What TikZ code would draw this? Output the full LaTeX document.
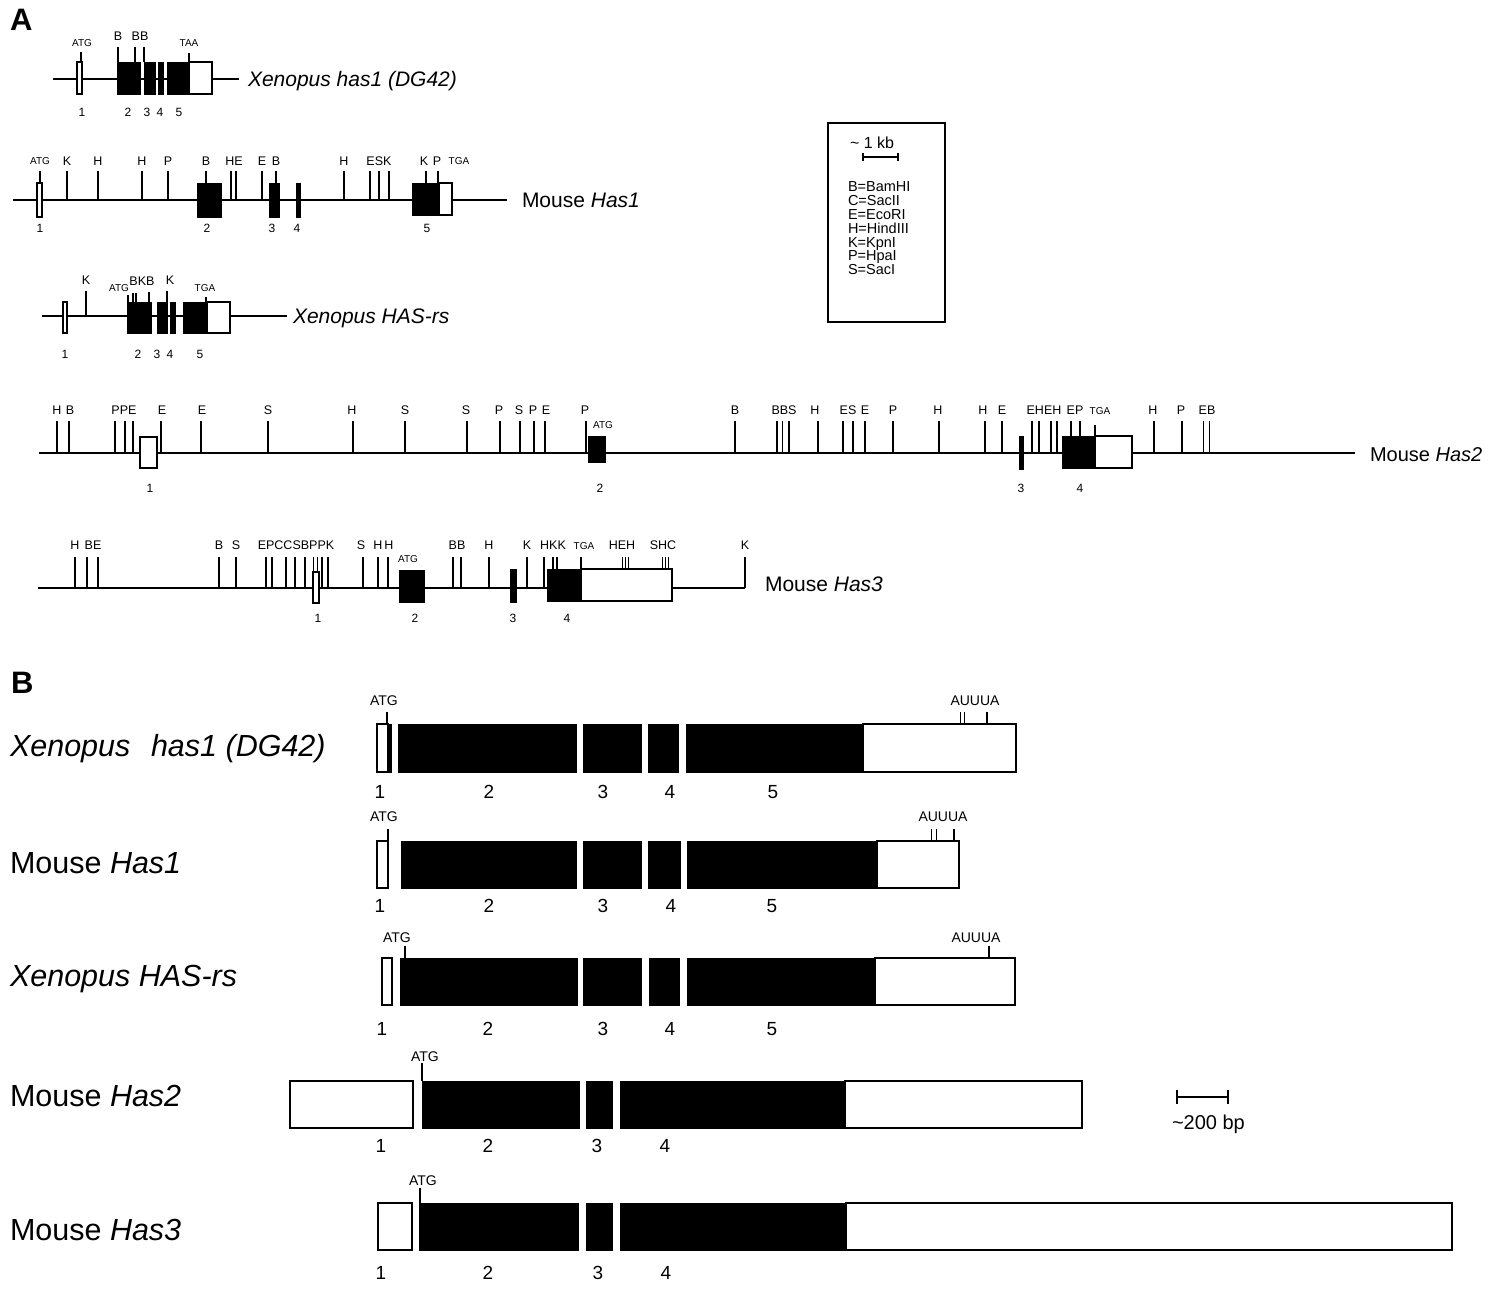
\documentclass[tikz,border=0pt]{standalone}
\usepackage{fontspec}
\setmainfont{Liberation Sans}
\begin{document}
\begin{tikzpicture}[x=1pt,y=-1pt,
  bl/.style={line width=1.5pt},
  tk/.style={line width=1.1pt},
  tn/.style={line width=0.8pt},
  ex/.style={fill=black,draw=black,line width=0.6pt},
  ut/.style={fill=white,draw=black,line width=1.3pt},
  txt/.style={inner sep=0pt,outer sep=0pt,anchor=base},
  rs/.style={txt,font=\fontsize{12.5}{14}\selectfont},
  sm/.style={txt,font=\fontsize{10}{11}\selectfont},
  num/.style={txt,font=\fontsize{12}{14}\selectfont},
  gA/.style={txt,anchor=base west,font=\fontsize{21}{24}\selectfont},
  gB/.style={txt,anchor=base west,font=\fontsize{30.5}{34}\selectfont},
  bsm/.style={txt,font=\fontsize{14}{16}\selectfont},
  bnum/.style={txt,font=\fontsize{19}{21}\selectfont},
  leg/.style={txt,anchor=base west,font=\fontsize{14.5}{16}\selectfont},
  panel/.style={txt,anchor=base west,font=\fontsize{31}{34}\selectfont\bfseries},
]
\useasboundingbox[fill=white] (0,0) rectangle (1494,1288);

%%%%%%%%%%%%%%%% PANEL A %%%%%%%%%%%%%%%%
\node[panel] (pA) at (10,30) {A};

% --- Xenopus has1 (DG42)
\draw[bl] (53,79) -- (239,79);
\draw[ut] (77,62) rectangle (82,94);
\foreach \a/\b in {117/140,144/155,158/163,167/189} \path[ex] (\a,62) rectangle (\b,94);
\draw[ut] (189,62) rectangle (212,94);
\foreach \x/\t in {81/52,118/47,135/47,144/47,189/53} \draw[tk] (\x,\t) -- (\x,62);
\node[sm] (x1atg) at (82,46) {ATG};
\node[rs] (x1b) at (118,40) {B};
\node[rs] (x1bb) at (140,40) {BB};
\node[sm] (x1taa) at (189,46) {TAA};
\foreach \x/\t [count=\i] in {82/1,128/2,147/3,160/4,179/5} \node[num] (x1n\i) at (\x,116) {\t};
\node[gA] (x1g) at (248,86) {\itshape Xenopus has1 (DG42)};

% --- Mouse Has1
\draw[bl] (13,200) -- (507,200);
\draw[ut] (37,183) rectangle (42,217);
\foreach \a/\b in {197/221,269/279,296/300} \path[ex] (\a,183) rectangle (\b,217);
\path[ex] (412,183) rectangle (439,215);
\draw[ut] (439,183) rectangle (452,215);
\foreach \x in {67,98,142,168,231,236,262,344,370,379,389} \draw[tk] (\x,171) -- (\x,200);
\foreach \x in {40,206,276,426,438} \draw[tk] (\x,171) -- (\x,183);
\foreach \x/\t [count=\i] in {67/K,98/H,142/H,168/P,206/B,234/HE,262/E,276/B,344/H,379/ESK,424/K,437/P} \node[rs] (m1l\i) at (\x,165) {\t};
\node[sm] (m1atg) at (40,164) {ATG};
\node[sm] (m1tga) at (459,164) {TGA};
\foreach \x/\t [count=\i] in {40/1,207/2,272/3,297/4,427/5} \node[num] (m1n\i) at (\x,232) {\t};
\node[gA] (m1g) at (522,207) {Mouse \textit{Has1}};

% --- Xenopus HAS-rs
\draw[bl] (42,316) -- (287,316);
\draw[ut] (63,302) rectangle (67,333);
\foreach \a/\b in {127/151,157/167,170/175,183/207} \path[ex] (\a,302) rectangle (\b,333);
\draw[ut] (207,302) rectangle (230,333);
\draw[tk] (86,291) -- (86,316);
\foreach \x/\t in {128/295,133/293,136/293,149/292,167/291,206/297} \draw[tk] (\x,\t) -- (\x,302);
\node[rs] (x2k1) at (86,284) {K};
\node[sm] (x2atg) at (119,291) {ATG};
\node[rs] (x2bkb) at (142,285) {BKB};
\node[rs] (x2k2) at (170,284) {K};
\node[sm] (x2tga) at (205,291) {TGA};
\foreach \x/\t [count=\i] in {65/1,138/2,157/3,170/4,200/5} \node[num] (x2n\i) at (\x,358) {\t};
\node[gA] (x2g) at (293,323) {\itshape Xenopus HAS-rs};

% --- Mouse Has2
\draw[bl] (39,453) -- (1355,453);
\draw[ut] (140,437) rectangle (157,468);
\path[ex] (588,436) rectangle (605,462);
\path[ex] (1019,436) rectangle (1023,469);
\path[ex] (1062,436) rectangle (1095,468);
\draw[ut] (1095,436) rectangle (1132,468);
\foreach \x in {57,69,115,125,133,161,201,268,353,405,467,500,520,534,545,586,735,777,789,818,843,853,865,893,939,985,1002,1032,1039,1051,1057,1154,1182} \draw[tk] (\x,421) -- (\x,453);
\foreach \x in {782,1203,1209} \draw[tn] (\x,421) -- (\x,453);
\foreach \x in {1071,1080} \draw[tk] (\x,421) -- (\x,436);
\draw[tk] (1095,425) -- (1095,436);
\foreach \x/\t [count=\i] in {57/H,70/B,124/PPE,162/E,202/E,268/S,352/H,405/S,466/S,499/P,519/S,533/P,546/E,585/P,735/B,784/BBS,815/H,848/ES,865/E,893/P,938/H,983/H,1002/E,1044/EHEH,1075/EP,1153/H,1181/P,1207/EB} \node[rs] (m2l\i) at (\x,414) {\t};
\node[sm] (m2tga) at (1100,414) {TGA};
\node[sm] (m2atg) at (603,428) {ATG};
\foreach \x/\t [count=\i] in {150/1,600/2,1021/3,1080/4} \node[num] (m2n\i) at (\x,492) {\t};
\node[gA,font=\fontsize{20}{24}\selectfont] (m2g) at (1370,461) {Mouse \textit{Has2}};

% --- Mouse Has3
\draw[bl] (38,588) -- (745,588);
\draw[ut] (313,572) rectangle (319,603);
\path[ex] (399,570) rectangle (424,602);
\path[ex] (510,569) rectangle (516,602);
\path[ex] (547,569) rectangle (581,601);
\draw[ut] (581,569) rectangle (672,601);
\foreach \x in {75,87,98,219,236,266,272,286,295,305,322,328,363,378,388,453,461,489,527,544,745} \draw[tk] (\x,557) -- (\x,588);
\foreach \x in {313,317} \draw[tn] (\x,557) -- (\x,572);
\foreach \x in {553,557} \draw[tk] (\x,557) -- (\x,569);
\foreach \x in {622,625,628,662,665,668} \draw[tn] (\x,557) -- (\x,569);
\draw[tk] (581,557) -- (581,569);
\foreach \x/\t [count=\i] in {75/H,93/BE,219/B,236/S,296/EPCCSBPPK,361/S,378/H,389/H,457/BB,489/H,527/K,553/HKK,622/HEH,663/SHC,745/K} \node[rs] (m3l\i) at (\x,549) {\t};
\node[sm] (m3tga) at (584,549) {TGA};
\node[sm] (m3atg) at (408,562) {ATG};
\foreach \x/\t [count=\i] in {318/1,415/2,513/3,567/4} \node[num] (m3n\i) at (\x,622) {\t};
\node[gA] (m3g) at (765,591) {Mouse \textit{Has3}};

% --- legend
\draw[line width=1.1pt] (828,123) rectangle (945,322);
\node[leg,font=\fontsize{16}{18}\selectfont] (kb) at (850,148) {\textasciitilde\ 1 kb};
\draw[tk] (863,157) -- (898,157);
\draw[tk] (863,153) -- (863,161);
\draw[tk] (898,153) -- (898,161);
\foreach \t [count=\i] in {B=BamHI,C=SacII,E=EcoRI,H=HindIII,K=KpnI,P=HpaI,S=SacI} \node[leg] (lg\i) at (848,{178+13.8*\i}) {\t};

%%%%%%%%%%%%%%%% PANEL B %%%%%%%%%%%%%%%%
\node[panel] (pB) at (11,693) {B};

% --- Xenopus has1 (DG42)
\draw[ut] (377,724) rectangle (388,772);
\path[ex] (388,724) rectangle (391,772);
\foreach \a/\b in {398/576,583/641,648/678,686/863} \path[ex] (\a,724) rectangle (\b,772);
\draw[ut] (863,724) rectangle (1016,772);
\foreach \x in {387,987} \draw[tk] (\x,712) -- (\x,724);
\foreach \x in {960,964} \draw[tn] (\x,712) -- (\x,724);
\node[bsm] (b1atg) at (384,705) {ATG};
\node[bsm] (b1au) at (975,705) {AUUUA};
\foreach \x/\t [count=\i] in {380/1,489/2,603/3,670/4,773/5} \node[bnum] (b1n\i) at (\x,798) {\t};
\node[gB] (b1g) at (10,756) {\itshape Xenopus\hspace{0.4em} has1 (DG42)};

% --- Mouse Has1
\draw[ut] (377,841) rectangle (388,888);
\foreach \a/\b in {401/576,583/641,648/680,687/877} \path[ex] (\a,841) rectangle (\b,888);
\draw[ut] (877,841) rectangle (959,888);
\foreach \x in {388,954} \draw[tk] (\x,829) -- (\x,841);
\foreach \x in {931,936} \draw[tn] (\x,829) -- (\x,841);
\node[bsm] (b2atg) at (384,821) {ATG};
\node[bsm] (b2au) at (943,821) {AUUUA};
\foreach \x/\t [count=\i] in {380/1,489/2,603/3,671/4,772/5} \node[bnum] (b2n\i) at (\x,912) {\t};
\node[gB] (b2g) at (10,873) {Mouse \textit{Has1}};

% --- Xenopus HAS-rs
\draw[ut] (382,958) rectangle (392,1005);
\foreach \a/\b in {400/577,583/641,649/679,687/875} \path[ex] (\a,958) rectangle (\b,1005);
\draw[ut] (875,958) rectangle (1015,1005);
\foreach \x in {405,989} \draw[tk] (\x,946) -- (\x,958);
\node[bsm] (b3atg) at (397,942) {ATG};
\node[bsm] (b3au) at (976,942) {AUUUA};
\foreach \x/\t [count=\i] in {382/1,488/2,603/3,670/4,772/5} \node[bnum] (b3n\i) at (\x,1035) {\t};
\node[gB] (b3g) at (10,986) {\itshape Xenopus HAS-rs};

% --- Mouse Has2
\draw[ut] (290,1081) rectangle (413,1128);
\foreach \a/\b in {422/579,586/612,620/845} \path[ex] (\a,1081) rectangle (\b,1128);
\draw[ut] (845,1081) rectangle (1082,1128);
\draw[tk] (422,1063) -- (422,1081);
\node[bsm] (b4atg) at (425,1061) {ATG};
\foreach \x/\t [count=\i] in {381/1,488/2,597/3,665/4} \node[bnum] (b4n\i) at (\x,1152) {\t};
\node[gB] (b4g) at (10,1106) {Mouse \textit{Has2}};
% scale bar
\draw[tk] (1177,1097) -- (1228,1097);
\draw[tk] (1177,1090) -- (1177,1104);
\draw[tk] (1228,1090) -- (1228,1104);
\node[txt,anchor=base west,font=\fontsize{20}{22}\selectfont] (bp) at (1172,1129) {\textasciitilde 200 bp};

% --- Mouse Has3
\draw[ut] (378,1203) rectangle (412,1250);
\foreach \a/\b in {419/578,586/612,620/846} \path[ex] (\a,1203) rectangle (\b,1250);
\draw[ut] (846,1203) rectangle (1452,1250);
\draw[tk] (420,1188) -- (420,1203);
\node[bsm] (b5atg) at (423,1185) {ATG};
\foreach \x/\t [count=\i] in {381/1,488/2,598/3,666/4} \node[bnum] (b5n\i) at (\x,1279) {\t};
\node[gB] (b5g) at (10,1240) {Mouse \textit{Has3}};
\end{tikzpicture}
\end{document}
